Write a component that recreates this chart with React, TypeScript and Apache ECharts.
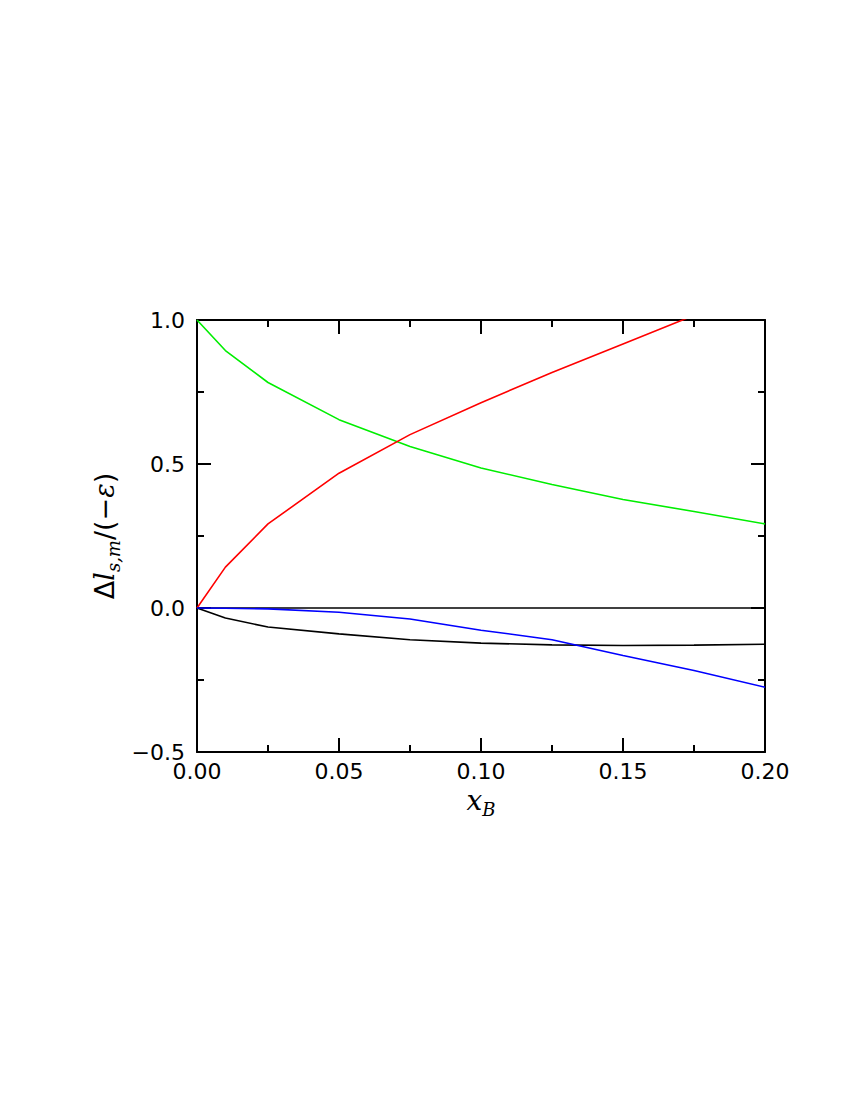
import React, { useEffect, useRef } from "react";
import * as echarts from "echarts";

const xValues = [0, 0.01, 0.025, 0.05, 0.075, 0.1, 0.125, 0.15, 0.175, 0.2];
const greenValues = [1.0, 0.894, 0.783, 0.654, 0.561, 0.486, 0.429, 0.377, 0.335, 0.292];
const redValues = [0.0, 0.142, 0.292, 0.468, 0.602, 0.713, 0.818, 0.917, 1.016, 1.11];
const blackValues = [0.0, -0.035, -0.066, -0.09, -0.11, -0.122, -0.128, -0.13, -0.129, -0.126];
const blueValues = [0.0, -0.001, -0.003, -0.015, -0.038, -0.077, -0.11, -0.165, -0.217, -0.275];
const zeroValues = [0, 0];
const zeroX = [0, 0.2];

const toPairs = (xs: number[], ys: number[]) => xs.map((x, i) => [x, ys[i]]);

const fmt = (v: number) => (v < 0 ? "\u2212" + Math.abs(v).toFixed(1) : v.toFixed(1));

export default function App() {
  const ref = useRef<HTMLDivElement>(null);
  useEffect(() => {
    if (!ref.current) return;
    const chart = echarts.init(ref.current, null, { renderer: "svg" });
    const axisLine = { show: true, onZero: false, lineStyle: { color: "#000", width: 2 } };
    const tick = { show: true, inside: true, length: 14, lineStyle: { color: "#000", width: 2 } };
    const minor = { show: true, splitNumber: 2, length: 7, lineStyle: { color: "#000", width: 2 } };
    const labelFont = { fontFamily: "DejaVu Sans", fontSize: 22, color: "#000" };
    const series: any[] = [
      { name: "zero", data: toPairs(zeroX, zeroValues), color: "#000" },
      { name: "green", data: toPairs(xValues, greenValues), color: "#00ee00" },
      { name: "red", data: toPairs(xValues, redValues), color: "#ff0000" },
      { name: "black", data: toPairs(xValues, blackValues), color: "#000000" },
      { name: "blue", data: toPairs(xValues, blueValues), color: "#0000ff" },
    ].map((s) => ({
      type: "line",
      name: s.name,
      data: s.data,
      showSymbol: false,
      symbol: "none",
      clip: true,
      lineStyle: { color: s.color, width: 1.6 },
      itemStyle: { color: s.color },
    }));
    chart.setOption({
      animation: false,
      backgroundColor: "#fff",
      grid: { left: 197, right: 85, top: 320, bottom: 348 },
      xAxis: [
        {
          type: "value",
          min: 0,
          max: 0.2,
          interval: 0.05,
          position: "bottom",
          axisLine,
          axisTick: tick,
          minorTick: minor,
          splitLine: { show: false },
          axisLabel: { ...labelFont, margin: 8, formatter: (v: number) => v.toFixed(2) },
        },
        {
          type: "value",
          min: 0,
          max: 0.2,
          interval: 0.05,
          position: "top",
          axisLine,
          axisTick: tick,
          minorTick: minor,
          splitLine: { show: false },
          axisLabel: { show: false },
        },
      ],
      yAxis: [
        {
          type: "value",
          min: -0.5,
          max: 1.0,
          interval: 0.5,
          position: "left",
          axisLine,
          axisTick: tick,
          minorTick: minor,
          splitLine: { show: false },
          axisLabel: { ...labelFont, margin: 12, formatter: fmt },
        },
        {
          type: "value",
          min: -0.5,
          max: 1.0,
          interval: 0.5,
          position: "right",
          axisLine,
          axisTick: tick,
          minorTick: minor,
          splitLine: { show: false },
          axisLabel: { show: false },
        },
      ],
      graphic: [
        {
          type: "text",
          x: 104,
          y: 536,
          rotation: Math.PI / 2,
          style: {
            text: "{n|\u0394}{i|l}{s|s,m}{n|/(\u2212}{i|\u03b5}{n|)}",
            align: "center",
            verticalAlign: "middle",
            rich: {
              n: { fontFamily: "DejaVu Sans", fontSize: 27, lineHeight: 36, fill: "#000" },
              i: { fontFamily: "DejaVu Serif", fontStyle: "italic", fontSize: 27, lineHeight: 36, fill: "#000" },
              s: { fontFamily: "DejaVu Serif", fontStyle: "italic", fontSize: 18, lineHeight: 18, verticalAlign: "bottom", fill: "#000" },
            },
          },
        },
        {
          type: "text",
          x: 481,
          y: 800,
          style: {
            text: "{i|x}{s|B}",
            align: "center",
            verticalAlign: "middle",
            rich: {
              i: { fontFamily: "DejaVu Serif", fontStyle: "italic", fontSize: 28, lineHeight: 36, fill: "#000" },
              s: { fontFamily: "DejaVu Serif", fontStyle: "italic", fontSize: 18, lineHeight: 18, verticalAlign: "bottom", fill: "#000" },
            },
          },
        },
      ],
      series,
    });
    return () => chart.dispose();
  }, []);
  return <div ref={ref} style={{ position: "fixed", left: 0, top: 0, width: 850, height: 1100 }} />;
}
